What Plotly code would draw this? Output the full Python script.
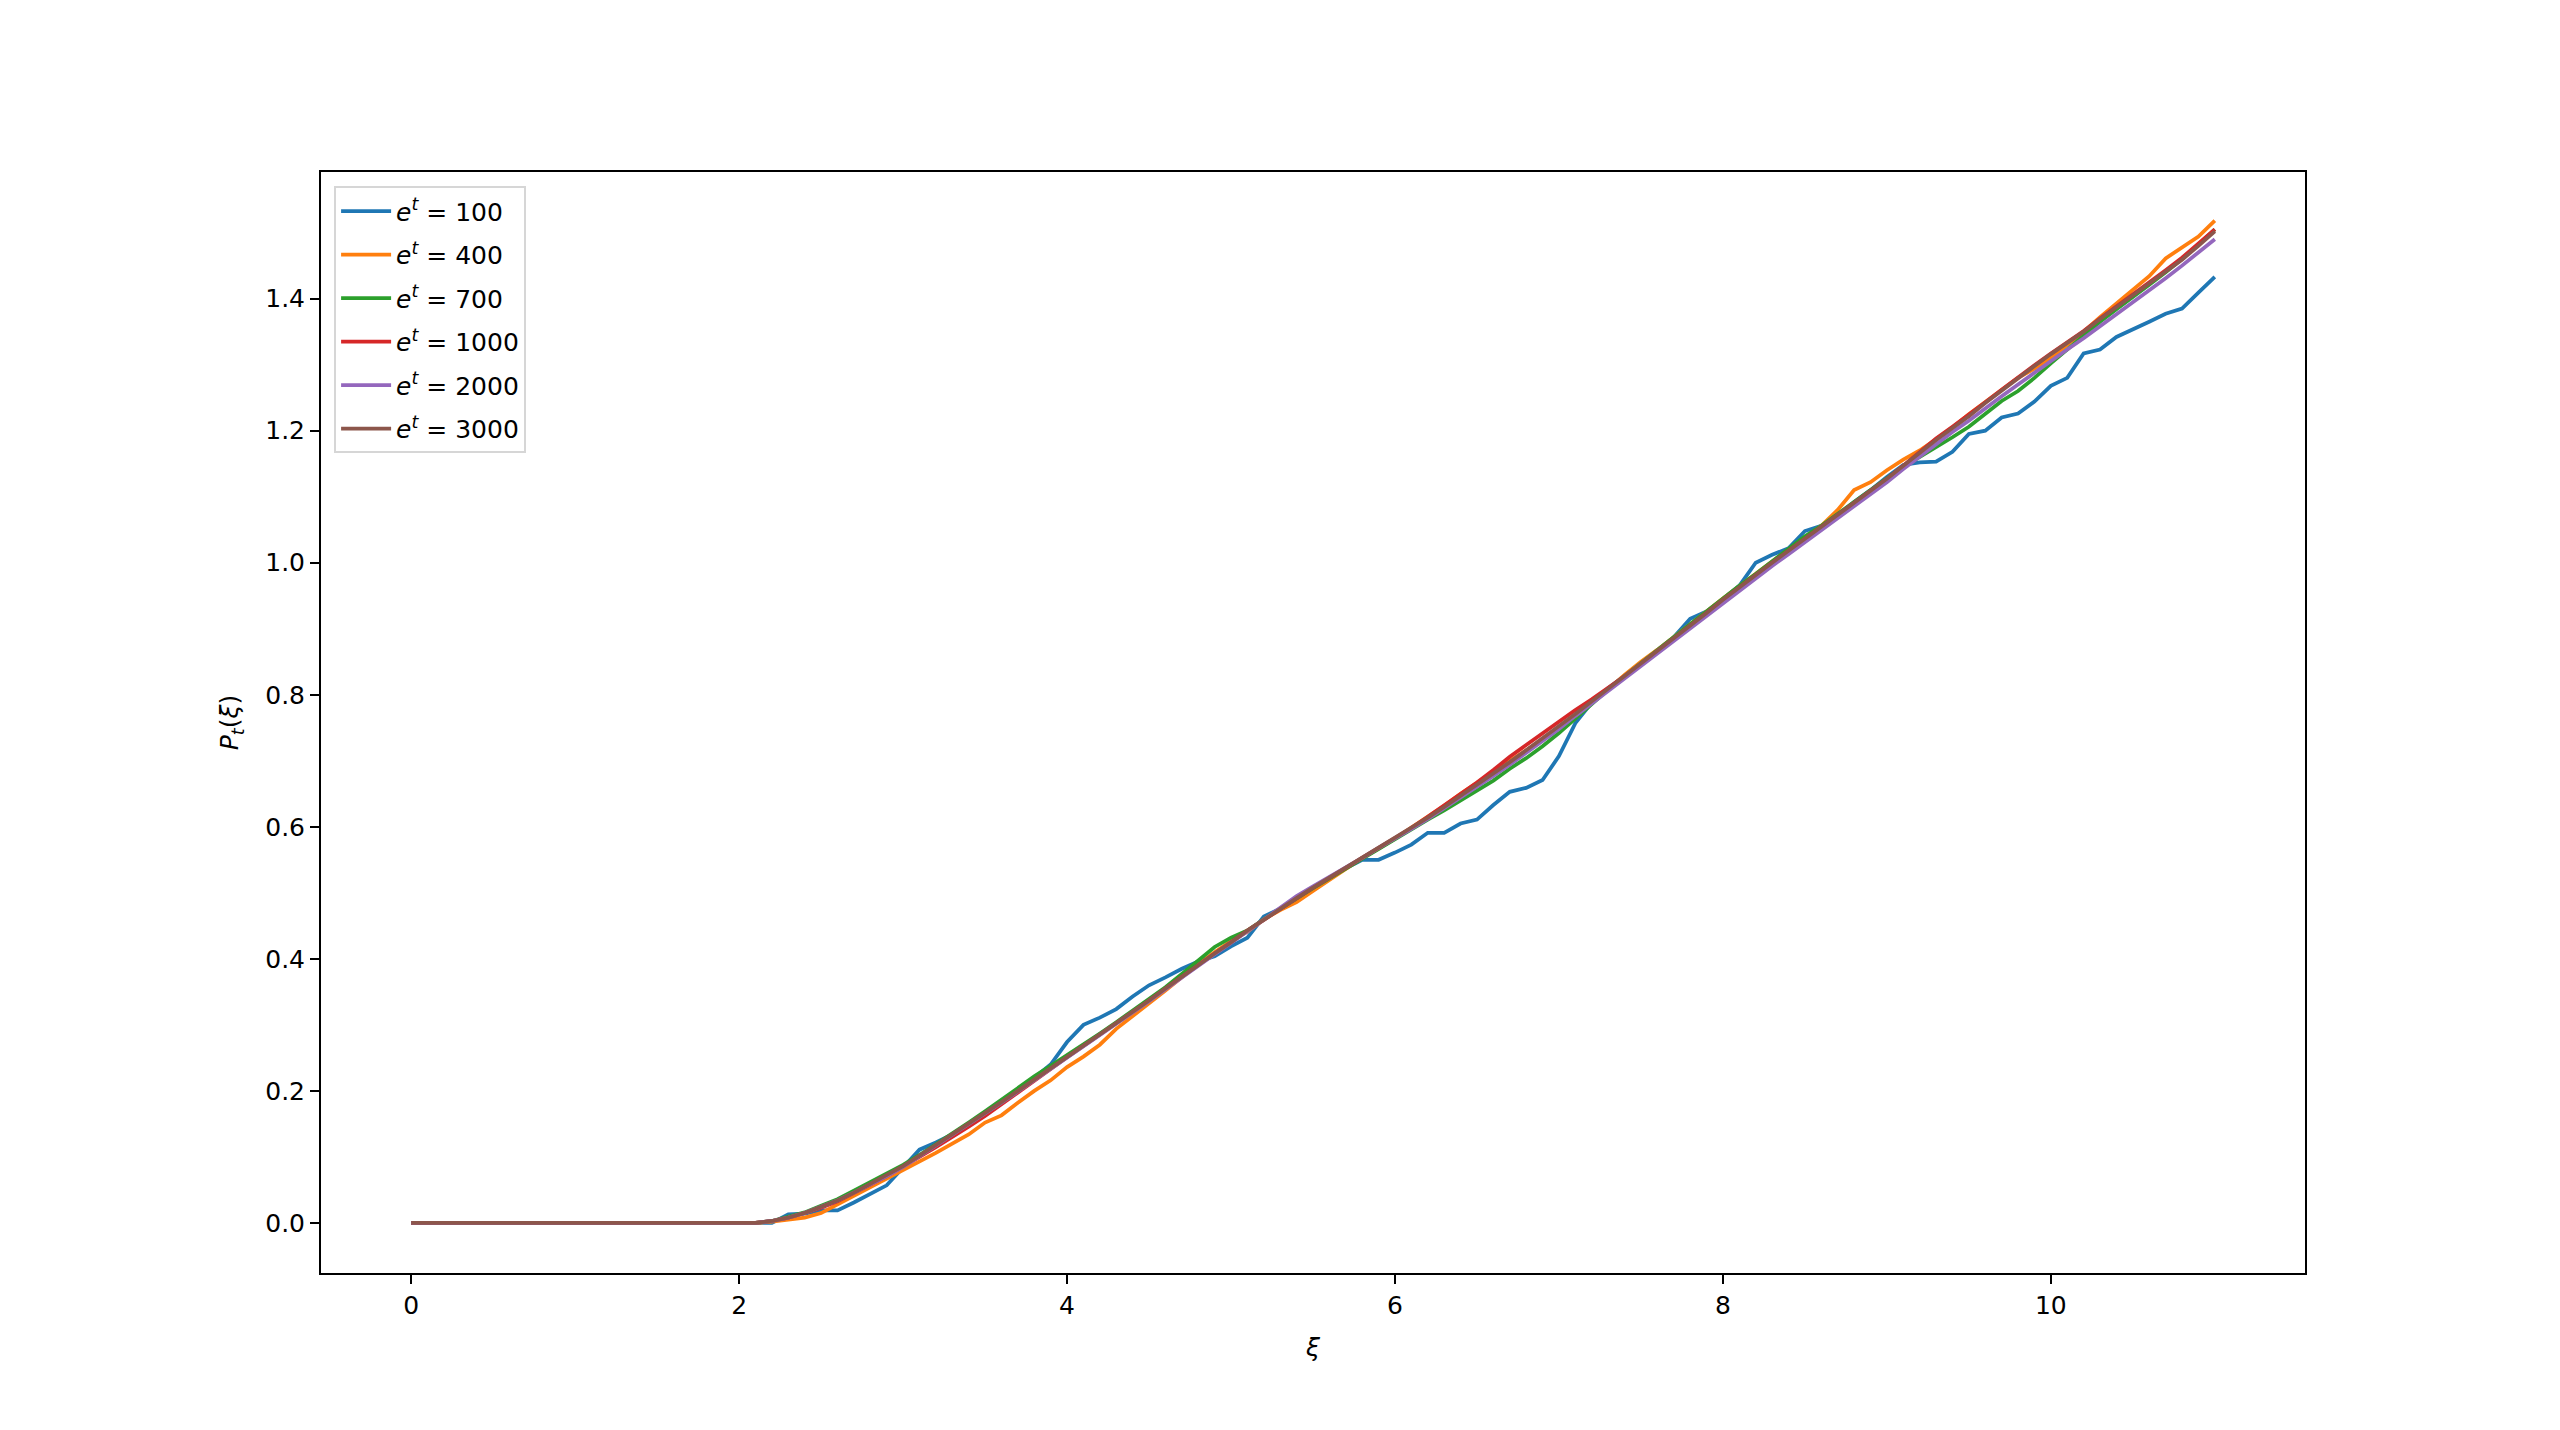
import plotly.graph_objects as go

# x grid: 0.0 .. 11.0 step 0.1
xi = [round(i * 0.1, 1) for i in range(111)]

zeros = [0.0] * 22  # x = 0.0 .. 2.1

p100 = zeros + [
    0.000, 0.013, 0.014, 0.019, 0.019, 0.031, 0.044, 0.057,  # 2.2-2.9
    0.084, 0.111, 0.122, 0.134, 0.150, 0.168, 0.186, 0.203, 0.220, 0.240,  # 3.0-3.9
    0.274, 0.300, 0.311, 0.324, 0.343, 0.360, 0.372, 0.385, 0.396, 0.404,  # 4.x
    0.419, 0.432, 0.464, 0.476, 0.492, 0.507, 0.522, 0.537, 0.550, 0.550,  # 5.x
    0.561, 0.573, 0.591, 0.591, 0.605, 0.611, 0.633, 0.653, 0.659, 0.671,  # 6.x
    0.707, 0.757, 0.788, 0.810, 0.829, 0.848, 0.868, 0.887, 0.915, 0.926,  # 7.x
    0.945, 0.965, 1.000, 1.012, 1.022, 1.048, 1.056, 1.072, 1.092, 1.110,  # 8.x
    1.130, 1.148, 1.152, 1.153, 1.168, 1.195, 1.200, 1.220, 1.226, 1.244,  # 9.x
    1.268, 1.280, 1.317, 1.323, 1.342, 1.353, 1.365, 1.377, 1.385, 1.409,  # 10.x
    1.433,
]

p400 = zeros + [
    0.002, 0.005, 0.008, 0.015, 0.028, 0.040, 0.054, 0.067,
    0.080, 0.093, 0.106, 0.120, 0.134, 0.152, 0.163, 0.182, 0.200, 0.216,
    0.236, 0.252, 0.270, 0.294, 0.313, 0.333, 0.352, 0.372, 0.392, 0.410,
    0.427, 0.441, 0.460, 0.474, 0.486, 0.503, 0.520, 0.537, 0.553, 0.567,
    0.582, 0.599, 0.615, 0.632, 0.650, 0.667, 0.684, 0.700, 0.716, 0.732,
    0.750, 0.768, 0.788, 0.808, 0.830, 0.850, 0.868, 0.887, 0.906, 0.926,
    0.946, 0.965, 0.983, 1.002, 1.020, 1.038, 1.056, 1.080, 1.110, 1.122,
    1.140, 1.156, 1.170, 1.187, 1.205, 1.225, 1.243, 1.262, 1.280, 1.294,
    1.310, 1.330, 1.350, 1.372, 1.393, 1.413, 1.434, 1.461, 1.478, 1.494,
    1.518,
]

p700 = zeros + [
    0.003, 0.009, 0.016, 0.026, 0.036, 0.049, 0.062, 0.075,
    0.088, 0.103, 0.119, 0.135, 0.152, 0.169, 0.187, 0.204, 0.222, 0.238,
    0.254, 0.270, 0.287, 0.304, 0.322, 0.339, 0.357, 0.377, 0.398, 0.418,
    0.432, 0.443, 0.460, 0.476, 0.492, 0.507, 0.522, 0.537, 0.552, 0.567,
    0.582, 0.596, 0.611, 0.625, 0.640, 0.654, 0.670, 0.688, 0.704, 0.722,
    0.742, 0.764, 0.786, 0.808, 0.828, 0.848, 0.868, 0.888, 0.907, 0.926,
    0.946, 0.965, 0.983, 1.002, 1.021, 1.040, 1.056, 1.074, 1.093, 1.110,
    1.128, 1.145, 1.160, 1.174, 1.190, 1.206, 1.225, 1.245, 1.260, 1.280,
    1.302, 1.323, 1.344, 1.365, 1.384, 1.402, 1.421, 1.440, 1.460, 1.482,
    1.505,
]

p1000 = zeros + [
    0.003, 0.008, 0.015, 0.023, 0.033, 0.045, 0.058, 0.071,
    0.085, 0.100, 0.115, 0.130, 0.146, 0.162, 0.180, 0.197, 0.215, 0.233,
    0.251, 0.268, 0.285, 0.302, 0.320, 0.337, 0.355, 0.373, 0.391, 0.408,
    0.425, 0.443, 0.459, 0.476, 0.492, 0.508, 0.523, 0.538, 0.553, 0.568,
    0.583, 0.598, 0.615, 0.632, 0.650, 0.667, 0.686, 0.706, 0.724, 0.742,
    0.760, 0.777, 0.793, 0.810, 0.828, 0.847, 0.866, 0.886, 0.905, 0.924,
    0.944, 0.963, 0.982, 1.000, 1.018, 1.036, 1.054, 1.072, 1.090, 1.108,
    1.127, 1.147, 1.168, 1.188, 1.206, 1.224, 1.243, 1.262, 1.281, 1.299,
    1.317, 1.334, 1.351, 1.370, 1.388, 1.406, 1.425, 1.443, 1.462, 1.483,
    1.505,
]

p2000 = zeros + [
    0.003, 0.008, 0.015, 0.024, 0.034, 0.046, 0.058, 0.071,
    0.085, 0.101, 0.117, 0.133, 0.149, 0.166, 0.182, 0.199, 0.216, 0.234,
    0.251, 0.267, 0.284, 0.301, 0.319, 0.336, 0.354, 0.372, 0.390, 0.407,
    0.424, 0.442, 0.460, 0.478, 0.495, 0.510, 0.524, 0.539, 0.553, 0.568,
    0.582, 0.597, 0.612, 0.628, 0.644, 0.660, 0.677, 0.694, 0.712, 0.730,
    0.748, 0.768, 0.787, 0.806, 0.825, 0.844, 0.862, 0.881, 0.900, 0.919,
    0.939, 0.958, 0.977, 0.995, 1.013, 1.031, 1.049, 1.067, 1.085, 1.103,
    1.122, 1.142, 1.161, 1.180, 1.198, 1.215, 1.234, 1.252, 1.270, 1.288,
    1.306, 1.323, 1.340, 1.358, 1.376, 1.394, 1.413, 1.431, 1.450, 1.470,
    1.490,
]

p3000 = zeros + [
    0.003, 0.008, 0.015, 0.024, 0.034, 0.046, 0.059, 0.072,
    0.086, 0.102, 0.118, 0.134, 0.150, 0.167, 0.183, 0.200, 0.217, 0.235,
    0.252, 0.268, 0.285, 0.302, 0.320, 0.337, 0.355, 0.373, 0.391, 0.408,
    0.425, 0.443, 0.459, 0.476, 0.492, 0.508, 0.523, 0.538, 0.553, 0.568,
    0.583, 0.598, 0.614, 0.630, 0.647, 0.663, 0.680, 0.698, 0.716, 0.734,
    0.752, 0.771, 0.790, 0.809, 0.828, 0.847, 0.866, 0.886, 0.905, 0.924,
    0.944, 0.963, 0.982, 1.000, 1.018, 1.036, 1.054, 1.072, 1.090, 1.108,
    1.127, 1.147, 1.167, 1.186, 1.204, 1.222, 1.242, 1.261, 1.280, 1.298,
    1.316, 1.333, 1.350, 1.369, 1.387, 1.405, 1.424, 1.441, 1.459, 1.480,
    1.502,
]

series_labels = ["100", "400", "700", "1000", "2000", "3000"]
series_values = [p100, p400, p700, p1000, p2000, p3000]
colors = ["#1f77b4", "#ff7f0e", "#2ca02c", "#d62728", "#9467bd", "#8c564b"]

xtick_vals = [0, 2, 4, 6, 8, 10]
ytick_vals = [0.0, 0.2, 0.4, 0.6, 0.8, 1.0, 1.2, 1.4]

FONT = "DejaVu Sans"
FS = 25

fig = go.Figure()
for lab, vals, col in zip(series_labels, series_values, colors):
    fig.add_trace(go.Scatter(
        x=xi, y=vals, mode="lines",
        name=f"<i>e</i><sup><i>t</i></sup> = " + lab,
        legendgroup=lab,
        line=dict(color=col, width=3.75),
    ))

# page body has an 8px default margin -> compensate
W, H = 2560, 1430
ML, MT = 313, 164
PW, PH = 1984, 1101
fig.update_layout(
    width=W, height=H,
    margin=dict(l=ML, r=W - ML - PW, t=MT, b=H - MT - PH),
    paper_bgcolor="white", plot_bgcolor="white",
    font=dict(family=FONT, size=FS, color="black"),
    showlegend=True,
    legend=dict(
        x=0.0066, y=0.987, xanchor="left", yanchor="top",
        bgcolor="rgba(255,255,255,0.8)",
        bordercolor="#d6d6d6", borderwidth=2,
        font=dict(family=FONT, size=FS, color="black"),
        tracegroupgap=8, itemwidth=50,
    ),
    xaxis=dict(
        range=[-0.55, 11.55],
        tickvals=xtick_vals, ticktext=[str(v) for v in xtick_vals],
        ticks="outside", ticklen=9, tickwidth=2, tickcolor="black",
        showline=True, linecolor="black", linewidth=2, mirror=True,
        showgrid=False, zeroline=False,
        title=dict(text="<i>ξ</i>", font=dict(family=FONT, size=FS), standoff=19),
    ),
    yaxis=dict(
        range=[-0.0758, 1.5918],
        tickvals=ytick_vals, ticktext=[f"{v:.1f}" for v in ytick_vals],
        ticks="outside", ticklen=9, tickwidth=2, tickcolor="black",
        showline=True, linecolor="black", linewidth=2, mirror=True,
        showgrid=False, zeroline=False,
        title=dict(text="<i>P<sub>t</sub></i>(<i>ξ</i>)", font=dict(family=FONT, size=FS), standoff=19),
    ),
)

fig.write_html("out.html")
